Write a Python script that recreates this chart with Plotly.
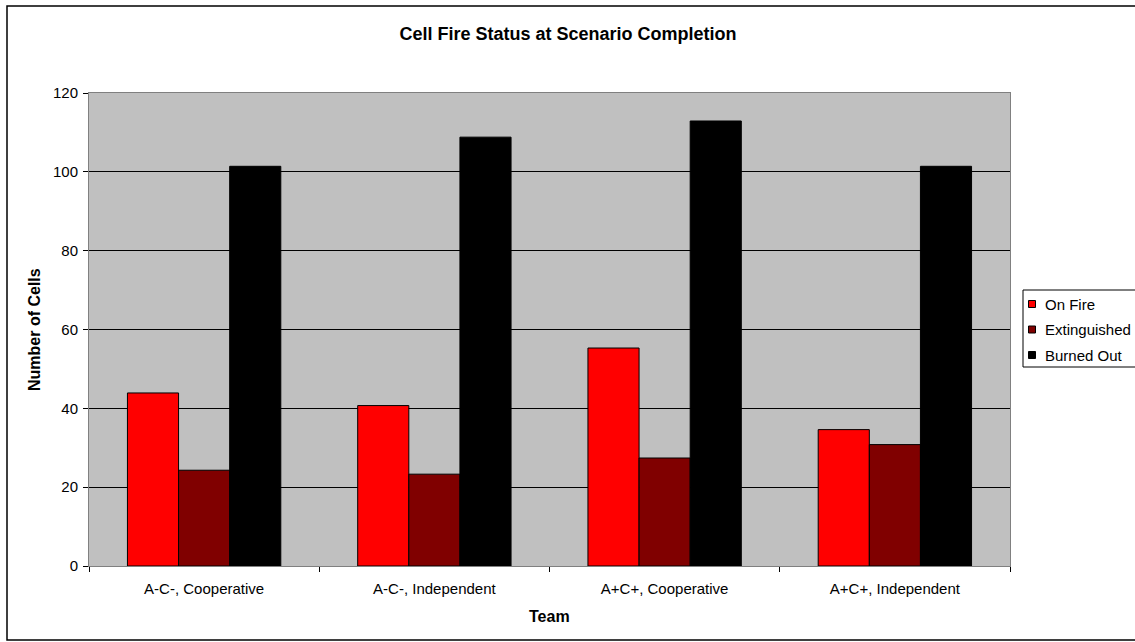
import plotly.graph_objects as go

# Chart data
teams = ["A-C-, Cooperative", "A-C-, Independent", "A+C+, Cooperative", "A+C+, Independent"]
on_fire = [43.9, 40.7, 55.3, 34.6]
extinguished = [24.3, 23.3, 27.4, 30.8]
burned_out = [101.4, 108.8, 112.9, 101.4]
y_ticks = [0, 20, 40, 60, 80, 100, 120]

series_names = ["On Fire", "Extinguished", "Burned Out"]
series_values = [on_fire, extinguished, burned_out]
series_colors = ["#FF0000", "#800000", "#000000"]

FONT = "Liberation Sans, Arial, sans-serif"
W, H = 1135, 642
L, R, T, B = 89, 125, 93, 76
PW, PH = W - L - R, H - T - B


def px_x(px):
    """Pixel column -> paper x."""
    return (px - L) / PW


def px_y(py):
    """Pixel row -> paper y."""
    return (H - B - py) / PH


fig = go.Figure()
for name, vals, color in zip(series_names, series_values, series_colors):
    fig.add_trace(go.Bar(
        x=teams, y=vals, name=name, showlegend=False,
        marker=dict(color=color, line=dict(color="#000000", width=1)),
    ))

fig.update_layout(
    width=W, height=H,
    margin=dict(l=L, r=R, t=T, b=B, autoexpand=False),
    paper_bgcolor="white",
    plot_bgcolor="#C0C0C0",
    barmode="group",
    bargap=0.334,
    bargroupgap=0,
    showlegend=False,
    font=dict(family=FONT, size=15, color="#000000"),
    title=dict(
        text="<b>Cell Fire Status at Scenario Completion</b>",
        x=px_x(568), xref="paper", xanchor="center",
        y=1 - 34 / H, yanchor="middle",
        font=dict(family=FONT, size=18, color="#000000"),
    ),
    xaxis=dict(
        type="category",
        showgrid=False,
        showline=True, linecolor="#808080", linewidth=1, mirror=True,
        ticks="outside", tickson="boundaries", ticklen=5, tickcolor="#000000",
        ticklabelstandoff=9,
        tickfont=dict(family=FONT, size=15, color="#000000"),
    ),
    yaxis=dict(
        range=[0, 120],
        tickvals=y_ticks,
        showgrid=True, gridcolor="#000000", gridwidth=1,
        zeroline=False,
        showline=True, linecolor="#808080", linewidth=1, mirror=True,
        ticks="outside", ticklen=5, tickcolor="#000000",
        ticklabelstandoff=2,
        tickfont=dict(family=FONT, size=15, color="#000000"),
    ),
)

annotations = [
    dict(text="<b>Number of Cells</b>", x=px_x(34), y=px_y(330), textangle=-90,
         font=dict(family=FONT, size=16, color="#000000")),
    dict(text="<b>Team</b>", x=px_x(549), y=px_y(616),
         font=dict(family=FONT, size=16, color="#000000")),
]

# Outer chart border
shapes = [dict(
    type="rect", xref="paper", yref="paper",
    x0=px_x(7), x1=px_x(1140), y0=px_y(640), y1=px_y(6),
    line=dict(color="#000000", width=1.5), fillcolor="rgba(0,0,0,0)", layer="below",
)]

# Legend box with swatches and labels
shapes.append(dict(
    type="rect", xref="paper", yref="paper",
    x0=px_x(1023), x1=px_x(1145), y0=px_y(367), y1=px_y(290),
    line=dict(color="#000000", width=1), fillcolor="white", layer="above",
))
for i, (name, color) in enumerate(zip(series_names, series_colors)):
    cy = 304 + i * 25.5
    shapes.append(dict(
        type="rect", xref="paper", yref="paper",
        x0=px_x(1028.5), x1=px_x(1035.5), y0=px_y(cy + 3.5), y1=px_y(cy - 3.5),
        line=dict(color="#000000", width=1), fillcolor=color, layer="above",
    ))
    annotations.append(dict(
        text=name, x=px_x(1043), y=px_y(cy), xanchor="left", yanchor="middle",
        font=dict(family=FONT, size=15, color="#000000"),
    ))

for a in annotations:
    a.update(xref="paper", yref="paper", showarrow=False)
    a.setdefault("xanchor", "center")
    a.setdefault("yanchor", "middle")

fig.update_layout(shapes=shapes, annotations=annotations)

fig.write_html("out.html")
